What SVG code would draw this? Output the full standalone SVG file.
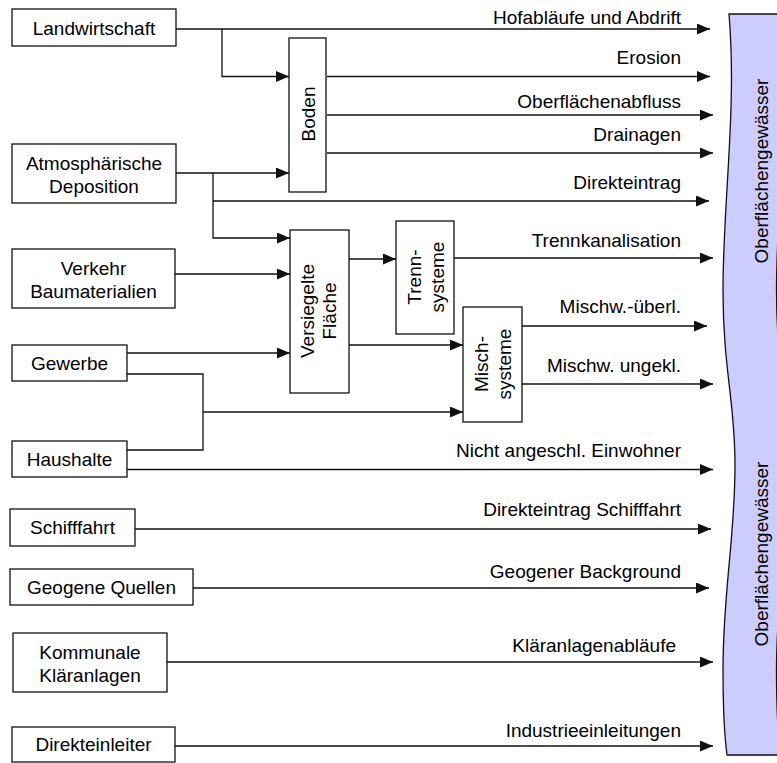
<svg xmlns="http://www.w3.org/2000/svg" width="777" height="763" viewBox="0 0 777 763">
<defs>
<marker id="arr" markerUnits="userSpaceOnUse" markerWidth="14" markerHeight="12" refX="13" refY="5.5" orient="auto">
<path d="M0,0 L13,5.5 L0,11 z" fill="#111"/>
</marker>
<style>
text{font-family:"Liberation Sans",Arial,sans-serif;font-size:19px;fill:#000}
.box{fill:#fff;stroke:#111;stroke-width:1.3}
.c{fill:none;stroke:#111;stroke-width:1.3}
.a{marker-end:url(#arr)}
.m{text-anchor:middle}
.e{text-anchor:end}
</style>
</defs>
<g id="gewaesser">
<path d="M729,14 L782.5,14 C790.5,110 776.5,200 776.5,290 C776.5,370 788.5,400 788.5,465 C788.5,540 776.5,590 776.5,670 C776.5,710 778.5,740 780.5,755 L727,755 C725,740 723,710 723,670 C723,590 735,540 735,465 C735,400 723,370 723,290 C723,200 737,110 729,14 Z" fill="#ccccff" stroke="#111" stroke-width="1.3"/>
<text class="m" transform="translate(768,171) rotate(-90)">Oberflächengewässer</text>
<text class="m" transform="translate(768,554) rotate(-90)">Oberflächengewässer</text>
</g>
<g id="connectors">
<path class="c a" d="M176,29 H710"/>
<path class="c a" d="M222,29 V76.5 H289"/>
<path class="c a" d="M327,76.5 H710"/>
<path class="c a" d="M327,115 H713"/>
<path class="c a" d="M327,153 H713"/>
<path class="c a" d="M176,173 H289"/>
<path class="c a" d="M213,173 V238 H290"/>
<path class="c a" d="M213,201 H709"/>
<path class="c a" d="M175,274 H290"/>
<path class="c a" d="M123,353 H290"/>
<path class="c" d="M127,374 H203 V450 H127"/>
<path class="c a" d="M203,412 H463"/>
<path class="c a" d="M127,469.5 H713"/>
<path class="c a" d="M349,259 H396"/>
<path class="c a" d="M347,345 H463"/>
<path class="c a" d="M454,258 H713"/>
<path class="c a" d="M522,326 H707"/>
<path class="c a" d="M522,384 H713"/>
<path class="c a" d="M135,529 H711"/>
<path class="c a" d="M193,588 H709"/>
<path class="c a" d="M167,662 H713"/>
<path class="c a" d="M175,746 H713"/>
<text class="e" x="681" y="23.5">Hofabläufe und Abdrift</text>
<text class="e" x="681" y="64">Erosion</text>
<text class="e" x="681" y="108">Oberflächenabfluss</text>
<text class="e" x="681" y="141">Drainagen</text>
<text class="e" x="681" y="189">Direkteintrag</text>
<text class="e" x="681" y="247">Trennkanalisation</text>
<text class="e" x="681" y="313">Mischw.-überl.</text>
<text class="e" x="681" y="372">Mischw. ungekl.</text>
<text class="e" x="681" y="457">Nicht angeschl. Einwohner</text>
<text class="e" x="681" y="516">Direkteintrag Schifffahrt</text>
<text class="e" x="681" y="578">Geogener Background</text>
<text class="e" x="676" y="652">Kläranlagenabläufe</text>
<text class="e" x="681" y="737">Industrieeinleitungen</text>
</g>
<g id="landwirtschaft"><rect class="box" x="12" y="9" width="164" height="37"/><text class="m" x="94" y="34.5">Landwirtschaft</text></g>
<g id="atmosphaerische-deposition"><rect class="box" x="12" y="144" width="164" height="59"/><text class="m" x="94" y="169.5">Atmosphärische</text><text class="m" x="94" y="192.5">Deposition</text></g>
<g id="verkehr"><rect class="box" x="12" y="249" width="163" height="59"/><text class="m" x="93.5" y="274.5">Verkehr</text><text class="m" x="93.5" y="297.5">Baumaterialien</text></g>
<g id="gewerbe"><rect class="box" x="12" y="345" width="115" height="36"/><text class="m" x="69.5" y="369.5">Gewerbe</text></g>
<g id="haushalte"><rect class="box" x="12" y="441" width="115" height="36"/><text class="m" x="69.5" y="465.5">Haushalte</text></g>
<g id="schifffahrt"><rect class="box" x="10" y="509" width="125" height="37"/><text class="m" x="72.5" y="534">Schifffahrt</text></g>
<g id="geogene-quellen"><rect class="box" x="10" y="569" width="183" height="36"/><text class="m" x="101.5" y="593.5">Geogene Quellen</text></g>
<g id="kommunale-klaeranlagen"><rect class="box" x="13" y="633" width="154" height="59"/><text class="m" x="90" y="658.5">Kommunale</text><text class="m" x="90" y="681.5">Kläranlagen</text></g>
<g id="direkteinleiter"><rect class="box" x="12" y="727" width="163" height="35"/><text class="m" x="93.5" y="751">Direkteinleiter</text></g>
<g id="boden"><rect class="box" x="289" y="38" width="37" height="154"/><text class="m" transform="translate(314.5,114) rotate(-90)">Boden</text></g>
<g id="versiegelte-flaeche"><rect class="box" x="290" y="230" width="59" height="163"/><text class="m" transform="translate(313.5,311) rotate(-90)">Versiegelte</text><text class="m" transform="translate(336,311) rotate(-90)">Fläche</text></g>
<g id="trennsysteme"><rect class="box" x="396" y="221" width="58" height="113"/><text class="m" transform="translate(421,277) rotate(-90)">Trenn-</text><text class="m" transform="translate(443.5,277) rotate(-90)">systeme</text></g>
<g id="mischsysteme"><rect class="box" x="463" y="307" width="59" height="115"/><text class="m" transform="translate(488,364) rotate(-90)">Misch-</text><text class="m" transform="translate(510.5,364) rotate(-90)">systeme</text></g>
</svg>
